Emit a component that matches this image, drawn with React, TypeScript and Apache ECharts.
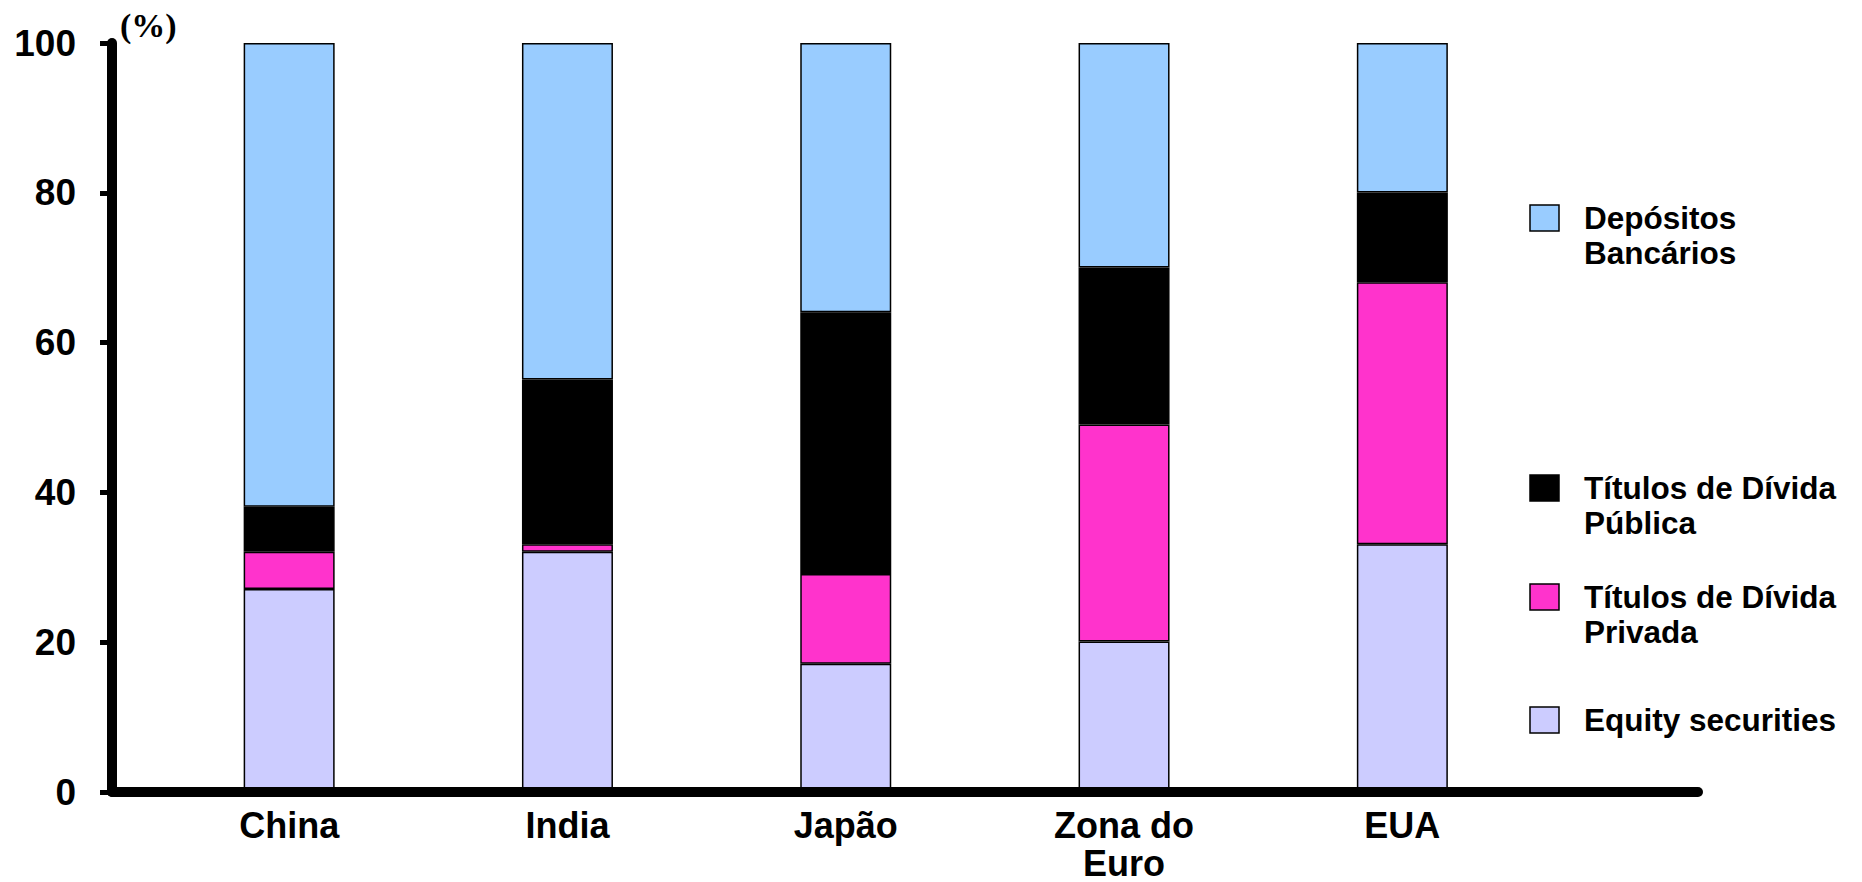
import React, { useEffect, useRef } from "react";
import * as echarts from "echarts";

const categories = ["China", "India", "Japão", "Zona do\nEuro", "EUA"];
const equity = [27, 32, 17, 20, 33];
const privada = [5, 1, 12, 29, 35];
const publica = [6, 22, 35, 21, 12];
const depositos = [62, 45, 36, 30, 20];

const seriesNames = [
  "Equity securities",
  "Títulos de Dívida\nPrivada",
  "Títulos de Dívida\nPública",
  "Depósitos\nBancários",
];
const seriesColors = ["#CCCCFF", "#FF33CC", "#000000", "#99CCFF"];
const seriesValues = [equity, privada, publica, depositos];

const FONT = "'Liberation Sans', Arial, Helvetica, sans-serif";

export default function App() {
  const ref = useRef<HTMLDivElement>(null);
  useEffect(() => {
    document.body.style.margin = "0";
    if (!ref.current) return;
    const chart = echarts.init(ref.current, null, { renderer: "svg" });

    const legendTops = [702, 579, 470, 200]; // by series index
    const legendGraphics: any[] = [];
    seriesNames.forEach((name, i) => {
      const top = legendTops[i];
      legendGraphics.push({
        type: "rect",
        shape: { x: 1530, y: top + 5, width: 29, height: 26 },
        style: { fill: seriesColors[i], stroke: "#000", lineWidth: 1.5 },
      });
      legendGraphics.push({
        type: "text",
        x: 1584,
        y: top,
        style: {
          text: name,
          fill: "#000",
          font: `bold 31.5px ${FONT}`,
          lineHeight: 35,
          textVerticalAlign: "top",
        },
      });
    });

    chart.setOption({
      animation: false,
      backgroundColor: "#fff",
      grid: [
        { left: 112, right: 164, top: 43, bottom: 90 },
        { left: 150, right: 320.5, top: 43, bottom: 90 },
      ],
      xAxis: [
        {
          type: "value",
          gridIndex: 0,
          min: 0,
          max: 1,
          z: 5,
          axisLine: { show: true, lineStyle: { color: "#000", width: 10 } },
          axisTick: { show: false },
          splitLine: { show: false },
          axisLabel: { show: false },
        },
        {
          type: "category",
          gridIndex: 1,
          data: categories,
          axisLine: { show: false },
          axisTick: { show: false },
          splitLine: { show: false },
          axisLabel: {
            color: "#000",
            fontFamily: FONT,
            fontWeight: "bold",
            fontSize: 36,
            lineHeight: 38,
            margin: 15,
          },
        },
      ],
      yAxis: [
        {
          type: "value",
          gridIndex: 0,
          min: 0,
          max: 100,
          interval: 20,
          name: "(%)",
          nameLocation: "end",
          nameGap: 1,
          nameTextStyle: {
            color: "#000",
            fontFamily: "'Liberation Serif', 'Times New Roman', serif",
            fontWeight: "bold",
            fontSize: 34,
            align: "left",
            verticalAlign: "bottom",
            padding: [0, 0, 0, 8],
          },
          z: 5,
          axisLine: { show: true, onZero: false, lineStyle: { color: "#000", width: 10 } },
          axisTick: { show: true, length: 12, lineStyle: { color: "#000", width: 5 } },
          splitLine: { show: false },
          axisLabel: {
            color: "#000",
            fontFamily: FONT,
            fontWeight: "bold",
            fontSize: 37,
            margin: 36,
            padding: [12, 0, 0, 0],
          },
        },
        {
          type: "value",
          gridIndex: 1,
          min: 0,
          max: 100,
          interval: 20,
          show: false,
          splitLine: { show: false },
        },
      ],
      series: seriesValues.map((vals, i) => ({
        type: "bar",
        name: seriesNames[i],
        xAxisIndex: 1,
        yAxisIndex: 1,
        stack: "total",
        barWidth: 91,
        itemStyle: { color: seriesColors[i], borderColor: "#000", borderWidth: 1.5 },
        data: vals,
      })),
      graphic: legendGraphics,
    });
    return () => chart.dispose();
  }, []);
  return <div ref={ref} style={{ width: 1862, height: 882 }} />;
}
